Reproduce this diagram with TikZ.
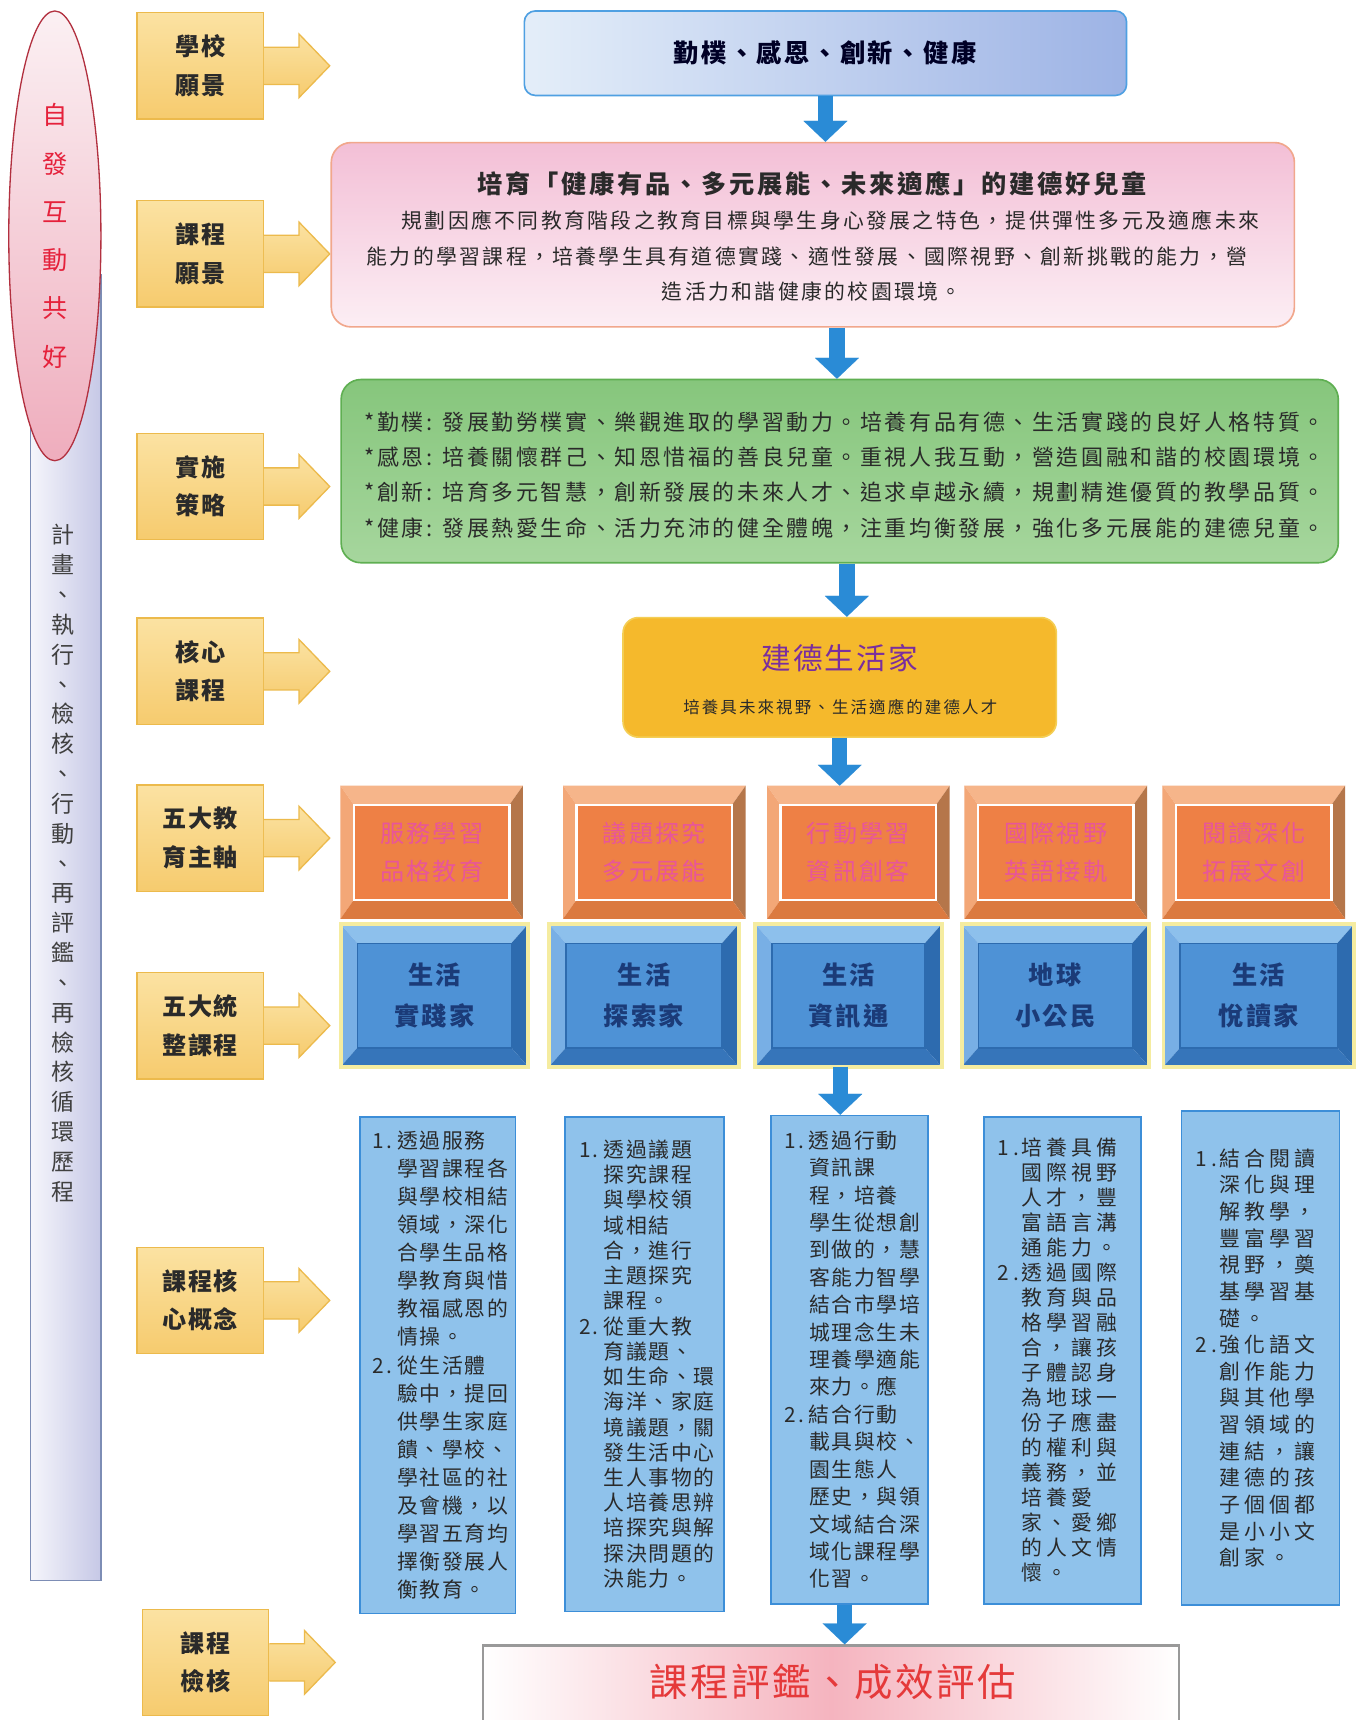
\documentclass[tikz,border=0pt]{standalone}
\usepackage{fontspec}
\setmainfont{Noto Sans CJK TC}
\usetikzlibrary{calc,arrows.meta,shapes.geometric}
\definecolor{lbltop}{HTML}{FBE2A2}
\definecolor{lblbot}{HTML}{F6CB6E}
\definecolor{lblline}{HTML}{ECBA4C}
\definecolor{txtdark}{HTML}{2A2A2A}
\definecolor{topL}{HTML}{E4EEF9}
\definecolor{topR}{HTML}{9DB3E5}
\definecolor{topline}{HTML}{4FA0E2}
\definecolor{pinktop}{HTML}{F3BFD6}
\definecolor{pinkbot}{HTML}{FCEEF4}
\definecolor{pinkline}{HTML}{F1A78C}
\definecolor{greentop}{HTML}{86C67C}
\definecolor{greenbot}{HTML}{A6D69D}
\definecolor{greenline}{HTML}{5FAF52}
\definecolor{gold}{HTML}{F5B92C}
\definecolor{goldline}{HTML}{F4CE55}
\definecolor{purp}{HTML}{7A2E9E}
\definecolor{oface}{HTML}{EE8045}
\definecolor{obtop}{HTML}{F6B58A}
\definecolor{obleft}{HTML}{F3A777}
\definecolor{obright}{HTML}{B5764A}
\definecolor{obbot}{HTML}{DB7A40}
\definecolor{otext}{HTML}{E8559A}
\definecolor{bface}{HTML}{4E92D6}
\definecolor{bbtop}{HTML}{8DC0EC}
\definecolor{bbleft}{HTML}{78AFE5}
\definecolor{bbright}{HTML}{2D6BAF}
\definecolor{bbbot}{HTML}{3675BA}
\definecolor{bglow}{HTML}{F5ECA0}
\definecolor{btext}{HTML}{1B3B78}
\definecolor{colfill}{HTML}{8FC2EB}
\definecolor{colline}{HTML}{3C8ED8}
\definecolor{arrblue}{HTML}{2A8BD6}
\definecolor{evalpink}{HTML}{F5B4BF}
\definecolor{evalred}{HTML}{E5393A}
\definecolor{elltop}{HTML}{FBF0F3}
\definecolor{ellbot}{HTML}{EFADBD}
\definecolor{ellline}{HTML}{B2303F}
\definecolor{elltext}{HTML}{E5213B}
\definecolor{barL}{HTML}{F5F5FB}
\definecolor{barR}{HTML}{C6C8E6}
\definecolor{barline}{HTML}{7D8DB5}
\newcommand\nbx[1]{\makebox[22pt][l]{#1}}
\newcommand\lsp[1]{\addfontfeature{LetterSpace=#1}}
\tikzset{
 lblbox/.style={draw=lblline, line width=1.2pt, top color=lbltop, bottom color=lblbot, minimum width=115pt, minimum height=97pt, inner sep=0pt, align=center, text=txtdark, font=\fontsize{22}{35}\selectfont\bfseries\lsp{7}},
 lblarr/.style={draw=lblline, line width=1.2pt, top color=lbltop, bottom color=lblbot, line join=miter},
 blk/.style={draw=arrblue, line width=14pt, -{Triangle[width=40pt,length=19pt,line width=0.1pt]}},
 ofacebox/.style={fill=oface, draw=white, line width=1.5pt, minimum width=141pt, minimum height=86pt, inner sep=0pt, align=center, text=otext, font=\fontsize{22}{35}\selectfont\lsp{9}},
 bfacebox/.style={fill=bface, draw=bbright, line width=0.8pt, minimum height=95pt, inner sep=0pt, align=center, text=btext, font=\fontsize{23}{37}\selectfont\bfseries\lsp{9}},
 colbox/.style={draw=colline, line width=1.5pt, fill=colfill, minimum width=142pt, text width=118pt, inner xsep=12pt, inner ysep=0pt, align=left, text=txtdark},
 plain/.style={inner sep=0pt, text=txtdark},
}
\newcommand\lblnode[4]{%
  \node[lblbox] (#1) at (#2,#3) {#4};
  \draw[lblarr] ($(#1.east)+(0,-17)$) -- ++(32,0) -- ++(0,-12) -- ++(28,29) -- ++(-28,29) -- ++(0,-12) -- ++(-32,0);
}
\newcommand\orgbox[4]{%
  \node[ofacebox] (#1) at (#2,#3) {#4};
  \fill[obtop] ($(#1.north west)+(-12,-17)$) -- ($(#1.north east)+(12,-17)$) -- (#1.north east) -- (#1.north west) -- cycle;
  \fill[obleft] ($(#1.north west)+(-12,-17)$) -- (#1.north west) -- (#1.south west) -- ($(#1.south west)+(-12,17)$) -- cycle;
  \fill[obright] ($(#1.north east)+(12,-17)$) -- (#1.north east) -- (#1.south east) -- ($(#1.south east)+(12,17)$) -- cycle;
  \fill[obbot] ($(#1.south west)+(-12,17)$) -- (#1.south west) -- (#1.south east) -- ($(#1.south east)+(12,17)$) -- cycle;
  \draw[white, line width=1.5pt] (#1.north west) rectangle (#1.south east);
}
\newcommand\bluebox[5]{%
  \node[bfacebox, minimum width=#4] (#1) at (#2,#3) {#5};
  \fill[bbtop] ($(#1.north west)+(-15,-17)$) -- ($(#1.north east)+(15,-17)$) -- (#1.north east) -- (#1.north west) -- cycle;
  \fill[bbleft] ($(#1.north west)+(-15,-17)$) -- (#1.north west) -- (#1.south west) -- ($(#1.south west)+(-15,17)$) -- cycle;
  \fill[bbright] ($(#1.north east)+(15,-17)$) -- (#1.north east) -- (#1.south east) -- ($(#1.south east)+(15,17)$) -- cycle;
  \fill[bbbot] ($(#1.south west)+(-15,17)$) -- (#1.south west) -- (#1.south east) -- ($(#1.south east)+(15,17)$) -- cycle;
  \draw[bbright, line width=0.8pt] (#1.north west) rectangle (#1.south east);
  \draw[bglow, line width=3.5pt] ($(#1.north west)+(-15,-17)$) rectangle ($(#1.south east)+(15,17)$);
}
\begin{document}
\begin{tikzpicture}[x=1pt,y=-1pt]
\useasboundingbox (0,0) rectangle (1239,1568);
\fill[white] (0,0) rectangle (1239,1568);

% left side: vertical bar and ellipse
\node[draw=barline, line width=1.2pt, left color=barL, right color=barR, minimum width=64pt, minimum height=1190pt, anchor=north, inner sep=0pt] (bar) at (60,250) {};
\node[plain, align=center, text=black!75, font=\fontsize{21}{27.2}\selectfont] (bartext) at (57,787)
 {計\\畫\\、\\執\\行\\、\\檢\\核\\、\\行\\動\\、\\再\\評\\鑑\\、\\再\\檢\\核\\循\\環\\歷\\程};
\node[ellipse, draw=ellline, line width=1.2pt, top color=elltop, bottom color=ellbot, minimum width=84pt, minimum height=410pt, inner sep=0pt, align=center, text=elltext, font=\fontsize{23}{44}\selectfont] (ell) at (50,215)
 {自\\發\\互\\動\\共\\好};

% left labels with arrows
\lblnode{l1}{182.5}{60}{學校\\願景}
\lblnode{l2}{182.5}{231.5}{課程\\願景}
\lblnode{l3}{182.5}{443.5}{實施\\策略}
\lblnode{l4}{182.5}{612}{核心\\課程}
\lblnode{l5}{182.5}{764}{五大教\\育主軸}
\lblnode{l6}{182.5}{935}{五大統\\整課程}
\lblnode{l7}{182.5}{1185.5}{課程核\\心概念}
\lblnode{l8}{187.5}{1515.5}{課程\\檢核}

% top box
\node[draw=topline, line width=1.5pt, rounded corners=10pt, left color=topL, right color=topR, minimum width=549pt, minimum height=77pt, inner sep=0pt] (topbox) at (752.5,48.5) {};
\node[plain, text=black!85!blue, font=\fontsize{23}{28}\selectfont\bfseries\lsp{10}] (toptext) at (752,48) {勤樸、感恩、創新、健康};

% pink box
\node[draw=pinkline, line width=1.5pt, rounded corners=18pt, top color=pinktop, bottom color=pinkbot, minimum width=878pt, minimum height=168pt, inner sep=0pt] (pink) at (741,214) {};
\node[plain, font=\fontsize{23}{28}\selectfont\bfseries\lsp{11}] (pinktitle) at (740,168) {培育「健康有品、多元展能、未來適應」的建德好兒童};
\node[plain, anchor=west, font=\fontsize{19}{24}\selectfont\lsp{11.5}] (pb1) at (366,201) {規劃因應不同教育階段之教育目標與學生身心發展之特色，提供彈性多元及適應未來};
\node[plain, anchor=west, font=\fontsize{19}{24}\selectfont\lsp{11.5}] (pb2) at (334,234) {能力的學習課程，培養學生具有道德實踐、適性發展、國際視野、創新挑戰的能力，營};
\node[plain, font=\fontsize{19}{24}\selectfont\lsp{11.5}] (pb3) at (740,266) {造活力和諧健康的校園環境。};

% green box
\node[draw=greenline, line width=1.5pt, rounded corners=18pt, top color=greentop, bottom color=greenbot, minimum width=909pt, minimum height=167pt, inner sep=0pt] (green) at (765.5,429.5) {};
\node[plain, anchor=west, font=\fontsize{20}{24}\selectfont\lsp{12}] (g1) at (332,385) {*勤樸: 發展勤勞樸實、樂觀進取的學習動力。培養有品有德、生活實踐的良好人格特質。};
\node[plain, anchor=west, font=\fontsize{20}{24}\selectfont\lsp{12}] (g2) at (332,417) {*感恩: 培養關懷群己、知恩惜福的善良兒童。重視人我互動，營造圓融和諧的校園環境。};
\node[plain, anchor=west, font=\fontsize{20}{24}\selectfont\lsp{12}] (g3) at (332,449) {*創新: 培育多元智慧，創新發展的未來人才、追求卓越永續，規劃精進優質的教學品質。};
\node[plain, anchor=west, font=\fontsize{20}{24}\selectfont\lsp{12}] (g4) at (332,481) {*健康: 發展熱愛生命、活力充沛的健全體魄，注重均衡發展，強化多元展能的建德兒童。};

% core box
\node[draw=goldline, line width=1.5pt, rounded corners=14pt, fill=gold, minimum width=395pt, minimum height=109pt, inner sep=0pt] (core) at (765.5,617.5) {};
\node[plain, text=purp, font=\fontsize{27}{32}\selectfont\lsp{7}] (coretitle) at (765.5,600) {建德生活家};
\node[plain, font=\fontsize{15}{18}\selectfont\lsp{13}] (coresub) at (766,645) {培養具未來視野、生活適應的建德人才};

% five orange boxes
\orgbox{o1}{393.5}{777}{服務學習\\品格教育}
\orgbox{o2}{596.5}{777}{議題探究\\多元展能}
\orgbox{o3}{782.5}{777}{行動學習\\資訊創客}
\orgbox{o4}{962.5}{777}{國際視野\\英語接軌}
\orgbox{o5}{1143}{777}{閱讀深化\\拓展文創}

% five blue boxes
\bluebox{b1}{396}{907.5}{140pt}{生活\\實踐家}
\bluebox{b2}{587}{907.5}{142pt}{生活\\探索家}
\bluebox{b3}{773.5}{907.5}{139pt}{生活\\資訊通}
\bluebox{b4}{962}{907.5}{140pt}{地球\\小公民}
\bluebox{b5}{1147.5}{907.5}{143pt}{生活\\悅讀家}

% five text columns
\node[colbox, minimum height=453pt, font=\fontsize{19}{25.6}\selectfont\lsp{8}] (c1) at (399,1244.5) {%
\nbx{1.}透過服務\\ \nbx{}學習課程各\\ \nbx{}與學校相結\\ \nbx{}領域，深化\\ \nbx{}合學生品格\\ \nbx{}學教育與惜\\ \nbx{}教福感恩的\\ \nbx{}情操。\\ \nbx{2.}從生活體\\ \nbx{}驗中，提回\\ \nbx{}供學生家庭\\ \nbx{}饋、學校、\\ \nbx{}學社區的社\\ \nbx{}及會機，以\\ \nbx{}學習五育均\\ \nbx{}擇衡發展人\\ \nbx{}衡教育。};
\node[colbox, minimum width=145pt, minimum height=451pt, font=\fontsize{19}{23}\selectfont\lsp{8}] (c2) at (587.5,1243.5) {%
\nbx{1.}透過議題\\ \nbx{}探究課程\\ \nbx{}與學校領\\ \nbx{}域相結\\ \nbx{}合，進行\\ \nbx{}主題探究\\ \nbx{}課程。\\ \nbx{2.}從重大教\\ \nbx{}育議題、\\ \nbx{}如生命、環\\ \nbx{}海洋、家庭\\ \nbx{}境議題，關\\ \nbx{}發生活中心\\ \nbx{}生人事物的\\ \nbx{}人培養思辨\\ \nbx{}培探究與解\\ \nbx{}探決問題的\\ \nbx{}決能力。};
\node[colbox, minimum width=143pt, minimum height=445pt, font=\fontsize{19}{25}\selectfont\lsp{8}] (c3) at (774.5,1239.5) {%
\nbx{1.}透過行動\\ \nbx{}資訊課\\ \nbx{}程，培養\\ \nbx{}學生從想創\\ \nbx{}到做的，慧\\ \nbx{}客能力智學\\ \nbx{}結合市學培\\ \nbx{}城理念生未\\ \nbx{}理養學適能\\ \nbx{}來力。應\\ \nbx{2.}結合行動\\ \nbx{}載具與校、\\ \nbx{}園生態人\\ \nbx{}歷史，與領\\ \nbx{}文域結合深\\ \nbx{}域化課程學\\ \nbx{}化習。};
\node[colbox, minimum width=143pt, minimum height=444pt, font=\fontsize{19}{22.8}\selectfont\lsp{20}] (c4) at (968.5,1240) {%
\nbx{1.}培養具備\\ \nbx{}國際視野\\ \nbx{}人才，豐\\ \nbx{}富語言溝\\ \nbx{}通能力。\\ \nbx{2.}透過國際\\ \nbx{}教育與品\\ \nbx{}格學習融\\ \nbx{}合，讓孩\\ \nbx{}子體認身\\ \nbx{}為地球一\\ \nbx{}份子應盡\\ \nbx{}的權利與\\ \nbx{}義務，並\\ \nbx{}培養愛\\ \nbx{}家、愛鄉\\ \nbx{}的人文情\\ \nbx{}懷。};
\node[colbox, minimum width=144pt, minimum height=450pt, font=\fontsize{19}{24.3}\selectfont\lsp{20}] (c5) at (1149,1238) {%
\nbx{1.}結合閱讀\\ \nbx{}深化與理\\ \nbx{}解教學，\\ \nbx{}豐富學習\\ \nbx{}視野，奠\\ \nbx{}基學習基\\ \nbx{}礎。\\ \nbx{2.}強化語文\\ \nbx{}創作能力\\ \nbx{}與其他學\\ \nbx{}習領域的\\ \nbx{}連結，讓\\ \nbx{}建德的孩\\ \nbx{}子個個都\\ \nbx{}是小小文\\ \nbx{}創家。};

% evaluation box
\node[draw=black!40, line width=2pt, left color=white, right color=white, middle color=evalpink, minimum width=635pt, minimum height=76pt, inner sep=0pt] (evalbox) at (757.5,1538) {};
\node[plain, text=evalred, font=\fontsize{35}{40}\selectfont\lsp{7}] (evaltext) at (759,1533) {課程評鑑、成效評估};

% blue flow arrows
\draw[blk] (topbox.south) -- (topbox.south |- pink.north);
\draw[blk] ($(pink.south)+(22,0)$) -- ($(green.north)+(-2.5,0)$);
\draw[blk] ($(green.south)+(6.5,0)$) -- ($(core.north)+(6.5,0)$);
\draw[blk] (core.south) -- ($(core.south |- o3.north)+(0,-17)$);
\draw[blk] ($(b3.south)+(-7.5,17)$) -- ($(c3.north)+(-8.5,0)$);
\draw[blk] ($(c3.south)+(-4.5,0)$) -- ($(evalbox.north)+(12.5,0)$);
\end{tikzpicture}
\end{document}
